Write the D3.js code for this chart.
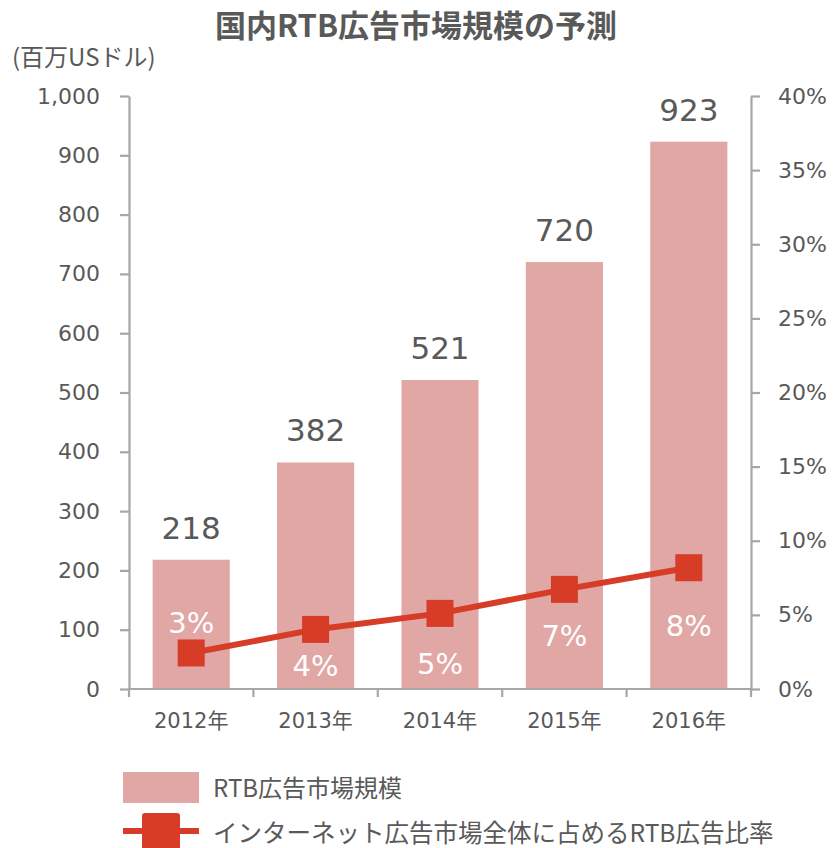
<!DOCTYPE html>
<html><head><meta charset="utf-8">
<script src="https://cdn.jsdelivr.net/npm/d3@7"></script>
<style>
html,body{margin:0;padding:0;background:#fff;}
text{font-family:"DejaVu Sans","Noto Sans CJK JP",sans-serif;fill:#595959;}
.jp{font-family:"Noto Sans CJK JP","DejaVu Sans",sans-serif;}
</style></head>
<body>
<svg id="chart" width="836" height="848"></svg>
<script>
// ---- data ----
const categories = ["2012年","2013年","2014年","2015年","2016年"];
const marketSize = [218, 382, 521, 720, 923];          // 百万USドル
const rtbShare   = [0.0243, 0.0402, 0.0510, 0.0672, 0.0818]; // share of internet ad market
const shareLabels = ["3%","4%","5%","7%","8%"];
const leftTicks  = [0,100,200,300,400,500,600,700,800,900,1000];
const rightTicks = [0,0.05,0.10,0.15,0.20,0.25,0.30,0.35,0.40];
const titleText = "国内RTB広告市場規模の予測";
const unitText = "(百万USドル)";
const legendLabels = ["RTB広告市場規模","インターネット広告市場全体に占めるRTB広告比率"];

// ---- layout ----
const L = 129, R = 751, T = 96, B = 689;
const barColor = "#E0A7A5", lineColor = "#D63C26", axisColor = "#A6A6A6";
const labelOffsets = [-20, 47, 61, 57, 68]; // share label placement (px from marker)

const svg = d3.select("#chart");

const x = d3.scaleBand().domain(categories).range([L, R]).paddingInner(0.38).paddingOuter(0.19);
const y = d3.scaleLinear().domain([0, 1000]).range([B, T]);
const y2 = d3.scaleLinear().domain([0, 0.4]).range([B, T]);

// title
svg.append("text").attr("class","jp").attr("x", 416).attr("y", 37).attr("text-anchor","middle")
  .style("font-size","31px").style("font-weight","bold").text(titleText);
svg.append("text").attr("class","jp").attr("x", 12).attr("y", 66)
  .style("font-size","24px").text(unitText);

// bars
svg.append("g").selectAll("rect").data(marketSize).join("rect")
  .attr("x", (d,i) => x(categories[i])).attr("width", x.bandwidth())
  .attr("y", d => y(d)).attr("height", d => B - y(d)).attr("fill", barColor);

// value labels
svg.append("g").selectAll("text").data(marketSize).join("text")
  .attr("x", (d,i) => x(categories[i]) + x.bandwidth()/2)
  .attr("y", d => y(d) - 21).attr("text-anchor","middle")
  .style("font-size","31px").text(d => d3.format(",")(d));

// left axis
const gl = svg.append("g").attr("transform", `translate(${L},0)`)
  .call(d3.axisLeft(y).tickValues(leftTicks).tickFormat(d3.format(",")).tickSize(9).tickSizeOuter(0).tickPadding(20));
// right axis
const gr = svg.append("g").attr("transform", `translate(${R},0)`)
  .call(d3.axisRight(y2).tickValues(rightTicks).tickFormat(d3.format(".0%")).tickSize(9).tickSizeOuter(0).tickPadding(18));
[gl, gr].forEach(g => {
  g.select(".domain").attr("stroke", axisColor).attr("stroke-width", 2.2);
  g.selectAll(".tick line").attr("stroke", axisColor).attr("stroke-width", 2.2);
  g.selectAll(".tick text").style("font-size","22px").attr("fill","#595959");
});

// x axis
const step = x.step();
const boundaries = d3.range(categories.length + 1).map(i => L + i * step);
const gx = svg.append("g");
gx.append("line").attr("x1", L).attr("x2", R).attr("y1", B).attr("y2", B)
  .attr("stroke", axisColor).attr("stroke-width", 2.2);
gx.selectAll("line.t").data(boundaries).join("line").attr("class","t")
  .attr("x1", d => d).attr("x2", d => d).attr("y1", B).attr("y2", B + 8)
  .attr("stroke", axisColor).attr("stroke-width", 2.2);
gx.selectAll("text").data(categories).join("text")
  .attr("x", d => x(d) + x.bandwidth()/2).attr("y", B + 39).attr("text-anchor","middle")
  .style("font-size","21px").text(d => d);

// line
const pts = rtbShare.map((v,i) => [x(categories[i]) + x.bandwidth()/2, y2(v)]);
svg.append("path").attr("d", d3.line()(pts)).attr("fill","none")
  .attr("stroke", lineColor).attr("stroke-width", 6);
svg.append("g").selectAll("rect").data(pts).join("rect")
  .attr("x", d => d[0] - 13.5).attr("y", d => d[1] - 13.5)
  .attr("width", 27).attr("height", 27).attr("fill", lineColor);

// share labels
svg.append("g").selectAll("text").data(shareLabels).join("text")
  .attr("x", (d,i) => pts[i][0]).attr("y", (d,i) => pts[i][1] + labelOffsets[i])
  .attr("text-anchor","middle").style("font-size","29px").style("fill","#fff").text(d => d);

// legend
const lg = svg.append("g");
lg.append("rect").attr("x", 123).attr("y", 772).attr("width", 76).attr("height", 31).attr("fill", barColor);
lg.append("text").attr("class","jp").attr("x", 213).attr("y", 797).style("font-size","24px").text(legendLabels[0]);
lg.append("line").attr("x1", 123).attr("x2", 199).attr("y1", 831).attr("y2", 831)
  .attr("stroke", lineColor).attr("stroke-width", 6);
lg.append("rect").attr("x", 142).attr("y", 813).attr("width", 38).attr("height", 38).attr("rx", 3).attr("fill", lineColor);
lg.append("text").attr("class","jp").attr("x", 213).attr("y", 842).style("font-size","24.5px").text(legendLabels[1]);
</script>
</body></html>
